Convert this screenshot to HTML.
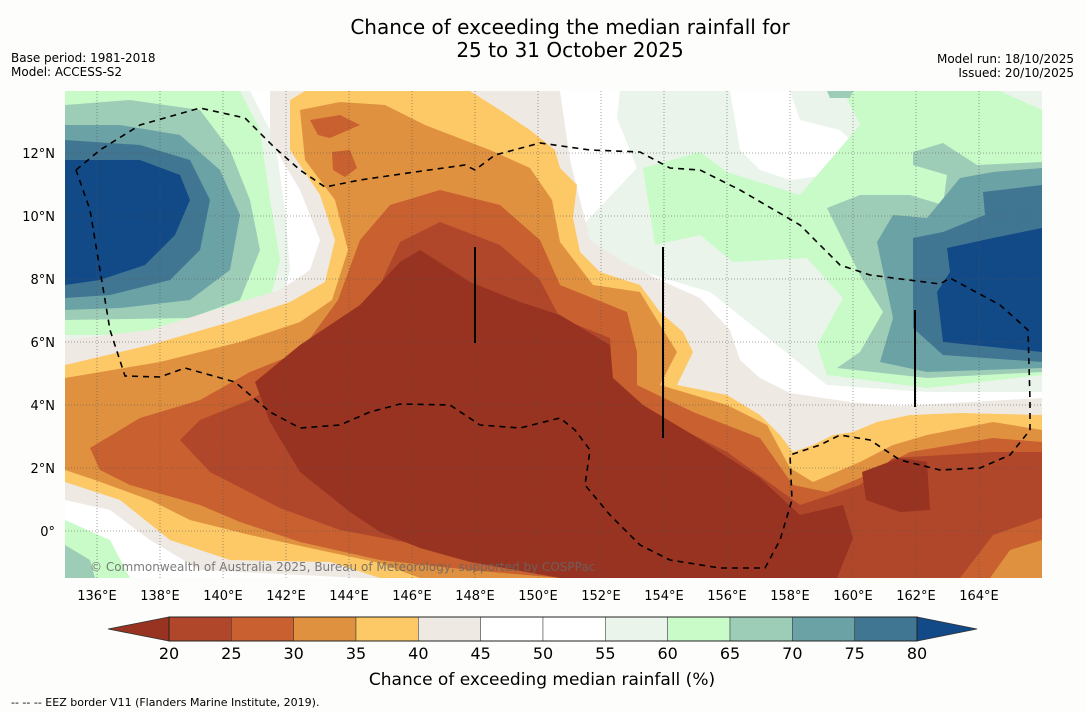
<!DOCTYPE html>
<html><head><meta charset="utf-8">
<style>
body{margin:0;background:#fdfefc;width:1085px;height:713px;overflow:hidden;font-family:"Liberation Sans","DejaVu Sans",sans-serif;}
svg{display:block}
</style></head>
<body>
<svg id="chart" width="1085" height="713" xmlns="http://www.w3.org/2000/svg" font-family="DejaVu Sans, Liberation Sans, sans-serif">
<rect width="1085" height="713" fill="#fdfefc"/>
<text x="570" y="34" font-size="20" text-anchor="middle" fill="#000">Chance of exceeding the median rainfall for</text>
<text x="570" y="57" font-size="20" text-anchor="middle" fill="#000">25 to 31 October 2025</text>
<text x="11" y="62" font-size="12">Base period: 1981-2018</text>
<text x="11" y="76" font-size="12">Model: ACCESS-S2</text>
<text x="1074" y="63" font-size="12" text-anchor="end">Model run: 18/10/2025</text>
<text x="1074" y="77" font-size="12" text-anchor="end">Issued: 20/10/2025</text>
<defs><clipPath id="mc"><rect x="65" y="91" width="977" height="487"/></clipPath></defs>
<g id="map" clip-path="url(#mc)">
<rect x="65" y="91" width="977" height="487" fill="#ffffff"/>
<polygon fill="#eaf4ea" points="65,91 250,91 275,140 285,210 290,270 275,330 200,345 65,345"/>
<polygon fill="#c9fbc9" points="65,91 240,91 260,130 270,200 280,260 265,320 200,335 65,335"/>
<polygon fill="#9dcdb7" points="65,105 130,100 200,110 230,150 250,200 260,250 240,300 190,318 65,320"/>
<polygon fill="#6ba2a5" points="65,125 120,125 180,135 220,170 240,215 230,270 190,300 120,308 65,310"/>
<polygon fill="#417693" points="65,140 140,145 190,160 210,200 200,250 170,280 110,295 65,298"/>
<polygon fill="#124a88" points="65,160 140,160 180,175 190,200 175,235 145,265 100,280 65,285"/>
<polygon fill="#eaf4ea" points="620,91 1042,91 1042,392 927,392 827,385 777,345 710,292 643,272 593,255 583,225 637,168 617,118"/>
<polygon fill="#ffffff" points="730,91 790,91 800,120 840,130 860,150 830,175 790,180 760,170 740,150 735,120"/>
<polygon fill="#c9fbc9" points="843,91 1000,91 1042,110 1042,375 927,388 827,375 817,345 843,298 807,258 733,262 700,235 655,245 643,168 700,152 727,172 800,195 860,125"/>
<polygon fill="#9dcdb7" points="913,152 943,143 977,165 1042,162 1042,372 927,378 837,368 860,352 883,312 860,275 827,208 860,195 910,195 943,205 947,175 913,165"/>
<polygon fill="#9dcdb7" points="827,91 853,91 850,98 830,98"/>
<polygon fill="#6ba2a5" points="960,178 993,172 1042,168 1042,368 927,372 880,362 893,318 877,242 893,215 927,218"/>
<polygon fill="#417693" points="983,192 1042,185 1042,362 943,355 913,328 913,238 943,232 985,215"/>
<polygon fill="#124a88" points="947,248 993,238 1042,228 1042,352 943,342 937,292 950,272"/>
<polygon fill="#c9fbc9" points="65,520 110,540 130,578 65,578"/>
<polygon fill="#9dcdb7" points="65,545 90,560 95,578 65,578"/>
<polygon fill="#efe9e4" points="65,340 150,330 230,305 280,290 310,270 320,240 300,190 270,140 270,91 560,91 570,160 590,240 620,260 660,280 700,298 730,330 740,360 760,378 790,393 850,402 900,406 1042,398 1042,578 360,578 300,575 200,570 150,540 110,510 65,500"/>
<polygon fill="#fdc866" points="65,365 150,345 230,322 290,302 325,282 335,240 320,195 290,150 290,100 305,91 470,91 500,110 530,130 555,150 560,168 577,185 573,218 580,252 600,272 640,285 660,312 683,332 693,352 677,385 727,395 760,415 780,435 793,452 813,445 833,435 853,432 877,422 910,415 960,413 1042,415 1042,578 380,578 330,562 230,560 170,540 120,500 65,482"/>
<polygon fill="#e0913f" points="65,378 160,362 240,342 300,322 332,300 348,250 335,200 305,160 300,110 340,102 385,105 425,125 490,150 530,168 552,200 560,242 593,285 640,292 660,325 677,352 660,385 727,405 767,425 790,468 813,482 860,462 893,445 927,435 993,422 1042,430 1042,578 420,578 380,563 310,548 250,535 190,520 150,500 95,480 65,470"/>
<polygon fill="#c8602f" points="140,418 200,400 250,372 300,352 338,300 360,240 390,205 440,190 500,205 540,240 560,285 627,312 637,352 637,385 693,412 760,438 793,485 827,492 860,478 910,452 993,438 1042,442 1042,578 560,578 470,570 380,560 300,542 240,522 200,505 130,485 100,470 90,448"/>
<polygon fill="#e0913f" points="1042,540 1010,550 990,578 1042,578"/>
<polygon fill="#c8602f" points="310,120 340,115 360,125 330,138 318,135"/>
<polygon fill="#c8602f" points="332,152 350,150 357,168 345,177 333,170"/>
<polygon fill="#b1472a" points="200,420 250,400 300,372 340,335 380,285 400,242 440,222 500,245 540,280 560,318 610,338 613,385 660,418 727,452 800,505 860,485 893,458 993,452 1042,452 1042,518 993,535 960,578 620,578 520,562 420,545 340,530 280,508 210,472 180,440"/>
<polygon fill="#973320" points="255,382 300,345 360,305 400,262 420,250 470,282 520,302 560,315 610,345 613,378 643,405 693,435 760,478 800,515 843,505 853,538 837,578 560,578 470,562 420,548 380,532 350,512 300,472 270,422"/>
<polygon fill="#973320" points="862,472 900,458 927,462 930,510 900,512 866,500"/>
<g id="grid" stroke="#555" stroke-width="0.8" stroke-dasharray="1,2" opacity="0.7"></g>
<line x1="475" y1="247" x2="475" y2="343" stroke="#000" stroke-width="2"/>
<line x1="663" y1="247" x2="663" y2="438" stroke="#000" stroke-width="2"/>
<line x1="915" y1="310" x2="915" y2="407" stroke="#000" stroke-width="2"/>
<polyline fill="none" stroke="#000" stroke-width="1.6" stroke-dasharray="6,5" points="76,170 100,150 140,125 200,108 245,118 275,148 300,170 325,187 360,180 415,172 465,165 475,170 495,155 540,143 590,150 640,152 670,168 700,170 740,190 800,225 840,265 870,275 940,284 950,278 1000,305 1028,330 1030,400 1030,430 1010,455 980,468 940,470 900,460 870,440 840,435 820,445 790,455 792,500 780,540 765,568 720,568 670,560 640,545 610,515 585,485 590,450 575,430 560,418 520,428 480,425 450,405 400,404 370,412 340,425 300,428 270,412 235,382 185,368 160,377 125,376 110,330 100,270 90,210 76,170"/>
<text x="90" y="571" font-size="12" fill="#666" opacity="0.85">© Commonwealth of Australia 2025, Bureau of Meteorology, supported by COSPPac</text>
</g>
<g id="ticks"></g>
<g id="colorbar"></g>
<text x="542" y="685" font-size="17" text-anchor="middle">Chance of exceeding median rainfall (%)</text>
<text x="11" y="706" font-size="11">--  --  -- EEZ border V11 (Flanders Marine Institute, 2019).</text>
</svg>
<script>
const ns='http://www.w3.org/2000/svg';
const lonTicks=[136,138,140,142,144,146,148,150,152,154,156,158,160,162,164];
const latTicks=[0,2,4,6,8,10,12];
const cbBounds=[20,25,30,35,40,45,50,55,60,65,70,75,80];
const cbColors=['#b1472a','#c8602f','#e0913f','#fdc866','#efe9e4','#ffffff','#ffffff','#eaf4ea','#c9fbc9','#9dcdb7','#6ba2a5','#417693'];
const cbUnder='#973320', cbOver='#124a88';
const xLon=l=>97+(l-136)*31.5;
const yLat=l=>531-l*31.5;
const cbX=v=>169+(v-20)*(917-169)/60;
function mk(t,a,p){const e=document.createElementNS(ns,t);for(const k in a)e.setAttribute(k,a[k]);p.appendChild(e);return e;}
const grid=document.getElementById('grid'), ticks=document.getElementById('ticks'), cb=document.getElementById('colorbar');
lonTicks.forEach(l=>{
  const ln=mk('line',{x1:xLon(l),x2:xLon(l),y1:91,y2:578},grid);
  
  
  const t=mk('text',{x:xLon(l),y:600,'font-size':13,'text-anchor':'middle'},ticks);
  t.textContent=l+'°E';
  
  
});
latTicks.forEach(l=>{
  const ln=mk('line',{x1:65,x2:1042,y1:yLat(l),y2:yLat(l)},grid);
  
  
  const t=mk('text',{x:55,y:yLat(l)+5,'font-size':13,'text-anchor':'end'},ticks);
  t.textContent=l===0?'0°':l+'°N';
  
  
});
cbColors.forEach((c,i)=>{
  const r=mk('rect',{x:cbX(cbBounds[i]),y:617,width:cbX(cbBounds[i+1])-cbX(cbBounds[i]),height:24,fill:c,stroke:'#333','stroke-width':0.5},cb);
  
  
});
const u=mk('polygon',{points:`${cbX(20)},617 ${cbX(20)},641 108,629`,fill:cbUnder,stroke:'#333','stroke-width':0.8},cb);


const o=mk('polygon',{points:`${cbX(80)},617 ${cbX(80)},641 977,629`,fill:cbOver,stroke:'#333','stroke-width':0.8},cb);


mk('rect',{x:cbX(20),y:617,width:cbX(80)-cbX(20),height:24,fill:'none',stroke:'#222','stroke-width':1},cb);
cbBounds.forEach(v=>{
  const t=mk('text',{x:cbX(v),y:659,'font-size':16,'text-anchor':'middle'},cb);
  t.textContent=v;
  
  
});
</script>
</body></html>
